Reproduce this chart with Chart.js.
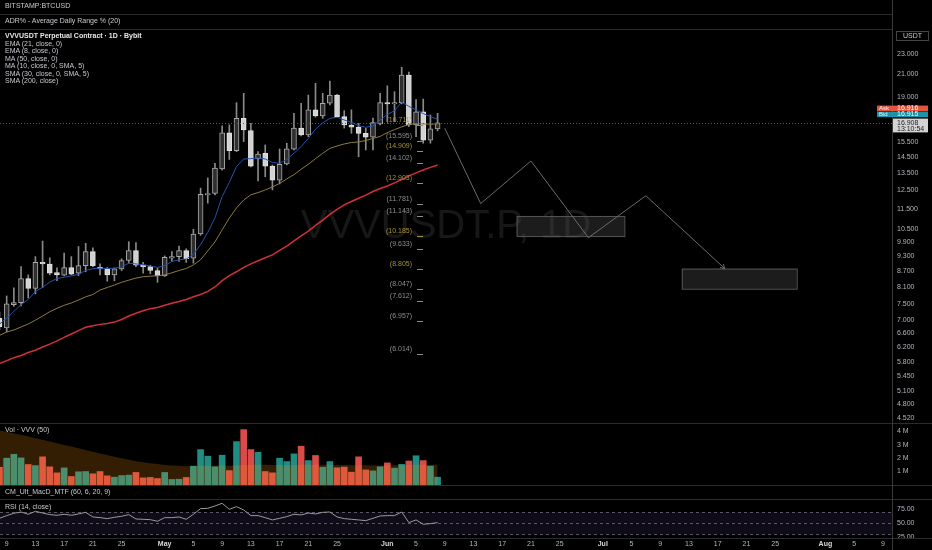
<!DOCTYPE html>
<html>
<head>
<meta charset="utf-8">
<title>VVVUSDT.P, 1D</title>
<script src="https://cdn.jsdelivr.net/npm/chart.js@4.4.1/dist/chart.umd.min.js"></script>
<style>
  html, body { margin: 0; padding: 0; background: #000; }
  #wrap { position: relative; width: 932px; height: 550px; overflow: hidden; background: #000; }
  #chart { position: absolute; left: 0; top: 0; }
  .lbl { position: absolute; left: 5px; font: 7px "Liberation Sans", Arial, sans-serif; line-height: 8px; color: #c8cad0; white-space: nowrap; }
  .lbl.b { font-weight: bold; color: #e8e8e8; }
</style>
</head>
<body>
<div id="wrap">
  <canvas id="chart" width="932" height="550"></canvas>
  <div class="lbl" style="top:2px">BITSTAMP:BTCUSD</div>
  <div class="lbl" style="top:17px">ADR% - Average Daily Range % (20)</div>
  <div class="lbl b" style="top:32px">VVVUSDT Perpetual Contract · 1D · Bybit</div>
  <div class="lbl" style="top:39.5px">EMA (21, close, 0)</div>
  <div class="lbl" style="top:47px">EMA (8, close, 0)</div>
  <div class="lbl" style="top:54.5px">MA (50, close, 0)</div>
  <div class="lbl" style="top:62px">MA (10, close, 0, SMA, 5)</div>
  <div class="lbl" style="top:69.5px">SMA (30, close, 0, SMA, 5)</div>
  <div class="lbl" style="top:77px">SMA (200, close)</div>
  <div class="lbl" style="top:426px">Vol · VVV (50)</div>
  <div class="lbl" style="top:488px">CM_Ult_MacD_MTF (60, 6, 20, 9)</div>
  <div class="lbl" style="top:503px">RSI (14, close)</div>
</div>
<script>
// daily candles, 2025
const dates = [
  '04-08','04-09','04-10','04-11','04-12','04-13','04-14','04-15','04-16','04-17','04-18','04-19',
  '04-20','04-21','04-22','04-23','04-24','04-25','04-26','04-27','04-28','04-29','04-30',
  '05-01','05-02','05-03','05-04','05-05','05-06','05-07','05-08','05-09','05-10','05-11','05-12',
  '05-13','05-14','05-15','05-16','05-17','05-18','05-19','05-20','05-21','05-22','05-23','05-24',
  '05-25','05-26','05-27','05-28','05-29','05-30','05-31',
  '06-01','06-02','06-03','06-04','06-05','06-06','06-07','06-08'
];
const open = [
  7.05, 6.75, 7.49, 7.56, 8.42, 8.06, 9.05, 8.98, 8.65, 8.55, 8.84, 8.63, 8.92, 9.50, 8.85, 8.80, 8.56, 8.79, 9.13, 9.54, 8.94, 8.88, 8.73,
  8.52, 9.23, 9.29, 9.54, 9.22, 10.28, 12.25, 12.32, 13.75, 16.17, 14.92, 17.25, 16.33, 14.38, 14.75, 13.93, 13.08, 14.06, 15.02, 16.51,
  16.01, 17.92, 17.43, 18.45, 19.14, 17.38, 16.74, 16.57, 16.13, 15.85, 16.82,
  18.50, 18.39, 18.50, 20.94, 16.74, 17.76, 15.65, 16.45
];
const high = [
  7.25, 7.79, 8.08, 8.88, 8.56, 9.29, 9.96, 9.24, 8.83, 9.44, 9.29, 9.72, 9.86, 9.66, 8.99, 8.85, 8.83, 9.20, 9.93, 9.89, 9.05, 8.94, 8.82,
  9.32, 9.50, 9.74, 9.62, 10.50, 12.62, 13.21, 14.10, 16.67, 16.75, 18.50, 19.29, 16.87, 14.86, 15.31, 14.00, 15.04, 15.43, 17.64, 18.45,
  19.14, 20.17, 19.29, 20.38, 19.20, 17.85, 17.92, 16.87, 16.50, 17.27, 19.29,
  19.95, 19.43, 21.67, 21.21, 18.75, 18.80, 17.51, 17.64
];
const low = [
  6.70, 6.63, 7.43, 7.45, 7.72, 7.86, 8.09, 8.56, 8.34, 8.52, 8.56, 8.53, 8.68, 8.88, 8.56, 8.32, 8.34, 8.73, 9.02, 8.88, 8.63, 8.60, 8.28,
  8.50, 9.09, 9.09, 9.05, 9.02, 10.22, 11.80, 12.24, 13.68, 14.35, 14.86, 15.54, 13.87, 13.04, 13.28, 12.52, 12.86, 14.00, 14.97, 15.94,
  15.89, 17.34, 17.25, 18.31, 17.36, 16.51, 16.13, 14.52, 14.97, 14.97, 16.74,
  17.00, 17.00, 18.40, 16.61, 15.89, 15.43, 15.43, 16.30
];
const close = [
  6.78, 7.52, 7.56, 8.42, 8.06, 9.05, 8.99, 8.63, 8.56, 8.84, 8.59, 8.92, 9.50, 8.92, 8.80, 8.56, 8.80, 9.13, 9.54, 8.94, 8.88, 8.73, 8.52,
  9.26, 9.29, 9.54, 9.20, 10.28, 12.27, 12.32, 13.80, 16.17, 14.92, 17.25, 16.37, 13.93, 14.70, 13.93, 13.08, 14.04, 15.04, 16.51, 16.01,
  17.92, 17.43, 18.45, 19.14, 17.38, 16.74, 16.57, 16.13, 15.85, 16.92, 18.50,
  18.39, 18.50, 20.94, 16.74, 17.76, 15.65, 16.45, 16.908
];
const ema8 = [
  6.87, 7.05, 7.27, 7.49, 7.67, 7.95, 8.10, 8.29, 8.42, 8.47, 8.52, 8.58, 8.73, 8.80, 8.82, 8.81, 8.82, 8.88, 9.02, 8.99, 8.96, 8.91, 8.85,
  8.92, 9.09, 9.16, 9.19, 9.38, 9.80, 10.35, 11.05, 12.15, 12.95, 13.90, 14.38, 14.40, 14.45, 14.38, 14.16, 14.10, 14.36, 14.75, 15.20,
  15.77, 16.43, 16.90, 17.25, 17.33, 17.12, 16.95, 16.69, 16.57, 16.67, 17.12,
  17.55, 17.85, 18.55, 18.20, 17.90, 17.62, 17.38, 17.18
];
const ema21 = [
  6.53, 6.63, 6.69, 6.78, 6.87, 6.99, 7.12, 7.26, 7.37, 7.47, 7.55, 7.65, 7.76, 7.84, 8.00, 8.09, 8.18, 8.28, 8.36, 8.44, 8.49, 8.51, 8.53,
  8.56, 8.64, 8.73, 8.81, 8.95, 9.16, 9.53, 9.92, 10.47, 11.04, 11.55, 11.97, 12.25, 12.37, 12.52, 12.69, 12.89, 13.15, 13.41, 13.73,
  14.04, 14.40, 14.75, 15.08, 15.24, 15.38, 15.48, 15.52, 15.62, 15.76, 15.91,
  16.18, 16.40, 16.60, 16.78, 16.85, 16.82, 16.80, 16.82
];
const ma50 = [
  5.76, 5.83, 5.91, 5.97, 6.05, 6.11, 6.20, 6.28, 6.37, 6.47, 6.57, 6.67, 6.77, 6.82, 6.86, 6.89, 6.93, 7.01, 7.12, 7.21, 7.29, 7.36, 7.40,
  7.47, 7.54, 7.60, 7.67, 7.76, 7.84, 7.95, 8.11, 8.34, 8.53, 8.68, 8.85, 8.99, 9.12, 9.24, 9.36, 9.55, 9.74, 9.97, 10.19,
  10.41, 10.68, 10.94, 11.22, 11.48, 11.71, 11.89, 12.06, 12.23, 12.43, 12.60,
  12.74, 12.92, 13.12, 13.33, 13.51, 13.69, 13.85, 14.00
];
// volume in millions
const volume = [
  1.32, 1.99, 2.28, 2.01, 1.52, 1.44, 2.09, 1.35, 0.90, 1.27, 0.63, 0.98, 1.00, 0.83, 1.00, 0.68, 0.58, 0.70, 0.73, 0.93, 0.53, 0.56, 0.48,
  0.93, 0.41, 0.43, 0.56, 1.40, 2.63, 2.14, 1.35, 2.21, 1.07, 3.22, 4.11, 2.63, 2.43, 1.00, 0.90, 1.99, 1.74, 2.31, 2.88,
  1.81, 2.19, 1.32, 1.74, 1.28, 1.33, 0.95, 2.09, 1.12, 1.05, 1.35,
  1.64, 1.25, 1.53, 1.78, 2.17, 1.81, 1.40, 0.58
];
const volMa = [
  4.05, 3.95, 3.83, 3.72, 3.60, 3.47, 3.35, 3.22, 3.10, 2.97, 2.85, 2.72, 2.60, 2.47, 2.33, 2.22, 2.10, 1.98, 1.87, 1.77, 1.69, 1.62, 1.55,
  1.49, 1.45, 1.42, 1.40, 1.40, 1.42, 1.43, 1.43, 1.44, 1.43, 1.45, 1.48, 1.50, 1.51, 1.50, 1.48, 1.48, 1.47, 1.48, 1.50,
  1.50, 1.51, 1.50, 1.50, 1.49, 1.48, 1.46, 1.47, 1.46, 1.45, 1.45,
  1.46, 1.46, 1.47, 1.48, 1.50, 1.51, 1.51, 1.50
];
const rsi = [
  58.9, 63.7, 67.9, 70.2, 66.1, 71.4, 68.4, 65.5, 64.3, 66.1, 64.3, 66.7, 69.6, 61.3, 60.1, 58.3, 60.7, 62.5, 65.5, 57.7, 57.1, 56.5, 53.6,
  60.1, 60.1, 61.3, 57.1, 66.1, 76.2, 76.8, 80.9, 85.7, 75.0, 79.8, 73.8, 63.7, 63.7, 60.1, 56.0, 58.9, 61.9, 66.1, 64.9,
  68.4, 66.7, 69.6, 70.2, 61.3, 58.3, 57.1, 56.0, 54.8, 58.9, 63.1,
  63.7, 63.7, 70.2, 51.2, 56.0, 48.2, 49.4, 51.2
];

// axis ticks
const priceTicks = [23, 21, 19, 15.5, 14.5, 13.5, 12.5, 11.5, 10.5, 9.9, 9.3, 8.7, 8.1, 7.5, 7.0, 6.6, 6.2, 5.8, 5.45, 5.1, 4.8, 4.52];
const volTicks = [1, 2, 3, 4];
const rsiTicks = [75, 50, 25];
const rsiBands = [70, 50, 30];
const xTickDates = ['04-09','04-13','04-17','04-21','04-25','05-01','05-05','05-09','05-13','05-17','05-21','05-25',
  '06-01','06-05','06-09','06-13','06-17','06-21','06-25','07-01','07-05','07-09','07-13','07-17','07-21','07-25',
  '08-01','08-05','08-09'];
const monthNames = ['Jan','Feb','Mar','Apr','May','Jun','Jul','Aug','Sep','Oct','Nov','Dec'];

// drawings
const fibLevels = [16.711, 15.595, 14.909, 14.102, 12.903, 11.781, 11.143, 10.185, 9.633, 8.805, 8.047, 7.612, 6.957, 6.014];
const fibGold = [true, false, true, false, true, false, false, true, false, true, false, false, false, false];
const fibDate = '06-05';
const zigDates = ['06-09', '06-14', '06-21', '06-29', '07-07', '07-18'];
const zigPrices = [16.50, 11.78, 14.25, 10.11, 12.20, 8.80];
const boxFrom = ['06-19', '07-12'];
const boxTo = ['07-04', '07-28'];
const boxTop = [11.143, 8.805];
const boxBottom = [10.185, 8.047];
const askPrice = 16.916, bidPrice = 16.915, countdown = '13:10:54';

const FONT = '"Liberation Sans", Arial, sans-serif';
const BASE = Date.UTC(2025, 3, 1);
const toDay = s => (Date.UTC(2025, +s.slice(0, 2) - 1, +s.slice(3, 5)) - BASE) / 864e5;
const days = dates.map(toDay);
const up = close.map((c, i) => c >= open[i]);
const pts = arr => days.map((d, i) => ({ x: d, y: arr[i] }));

const xMin = toDay('04-08') + 0.07;
const xMax = xMin + 124.2;

const decor = {
  id: 'decor',
  beforeDatasetsDraw(chart) {
    const { ctx, chartArea: a, scales: s } = chart;
    const ym = s.yMain, yr = s.yRsi, x = s.x;
    ctx.save();
    // watermark
    ctx.fillStyle = 'rgba(255,255,255,0.09)';
    ctx.font = '40px ' + FONT;
    ctx.textAlign = 'center';
    ctx.textBaseline = 'middle';
    ctx.fillText('VVVUSDT.P, 1D', (a.left + a.right) / 2, (ym.top + ym.bottom) / 2);
    // rsi band
    const yb = rsiBands.map(v => yr.getPixelForValue(v));
    ctx.fillStyle = 'rgba(126,87,194,0.12)';
    ctx.fillRect(a.left, yb[0], a.right - a.left, yb[2] - yb[0]);
    ctx.strokeStyle = 'rgba(140,140,150,0.6)';
    ctx.lineWidth = 1;
    ctx.setLineDash([3, 3]);
    yb.forEach(y => {
      ctx.beginPath();
      ctx.moveTo(a.left, Math.round(y) + 0.5);
      ctx.lineTo(a.right, Math.round(y) + 0.5);
      ctx.stroke();
    });
    ctx.setLineDash([]);
    // target boxes
    boxFrom.forEach((d, i) => {
      const x0 = x.getPixelForValue(toDay(d)), x1 = x.getPixelForValue(toDay(boxTo[i]));
      const y0 = ym.getPixelForValue(boxTop[i]), y1 = ym.getPixelForValue(boxBottom[i]);
      ctx.fillStyle = 'rgba(80,80,80,0.35)';
      ctx.fillRect(x0, y0, x1 - x0, y1 - y0);
      ctx.strokeStyle = '#555';
      ctx.strokeRect(x0 + 0.5, y0 + 0.5, x1 - x0, y1 - y0);
    });
    ctx.restore();
  },
  afterDatasetsDraw(chart) {
    const { ctx, chartArea: a, scales: s } = chart;
    const ym = s.yMain, x = s.x;
    ctx.save();
    // last price dotted line
    const cy = Math.round(ym.getPixelForValue(close[close.length - 1])) + 0.5;
    ctx.strokeStyle = '#5c5c5c';
    ctx.setLineDash([1, 2]);
    ctx.beginPath();
    ctx.moveTo(a.left, cy);
    ctx.lineTo(a.right, cy);
    ctx.stroke();
    ctx.setLineDash([]);
    // fib levels
    const ax = x.getPixelForValue(toDay(fibDate));
    ctx.font = '7px ' + FONT;
    ctx.textAlign = 'right';
    ctx.textBaseline = 'middle';
    fibLevels.forEach((p, i) => {
      const y = Math.round(ym.getPixelForValue(p)) + 0.5;
      const col = fibGold[i] ? '#a3913c' : '#8e8e8e';
      ctx.fillStyle = col;
      ctx.fillText('(' + p.toFixed(3) + ')', ax - 4, y - 5);
      ctx.strokeStyle = col;
      ctx.beginPath();
      ctx.moveTo(ax + 1, y);
      ctx.lineTo(ax + 7, y);
      ctx.stroke();
    });
    // arrow head at end of projection
    const n = zigDates.length;
    const ex = x.getPixelForValue(toDay(zigDates[n - 1])), ey = ym.getPixelForValue(zigPrices[n - 1]);
    const px = x.getPixelForValue(toDay(zigDates[n - 2])), py = ym.getPixelForValue(zigPrices[n - 2]);
    const ang = Math.atan2(ey - py, ex - px);
    ctx.strokeStyle = '#6b6b6b';
    ctx.beginPath();
    ctx.moveTo(ex - 5 * Math.cos(ang - 0.5), ey - 5 * Math.sin(ang - 0.5));
    ctx.lineTo(ex, ey);
    ctx.lineTo(ex - 5 * Math.cos(ang + 0.5), ey - 5 * Math.sin(ang + 0.5));
    ctx.stroke();
    ctx.restore();
  },
  afterDraw(chart) {
    const { ctx, chartArea: a, scales: s, width: W, height: H } = chart;
    const ym = s.yMain;
    ctx.save();
    ctx.strokeStyle = '#2c2c2c';
    ctx.lineWidth = 1;
    const hl = (y, x1) => { ctx.beginPath(); ctx.moveTo(0, Math.round(y) + 0.5); ctx.lineTo(x1, Math.round(y) + 0.5); ctx.stroke(); };
    hl(14, a.right); hl(29, a.right);
    hl(ym.bottom, W); hl(s.yVol.bottom, W); hl(s.yMacd.bottom, W); hl(a.bottom, W);
    ctx.strokeStyle = '#3a3a3a';
    ctx.beginPath();
    ctx.moveTo(a.right + 0.5, 0);
    ctx.lineTo(a.right + 0.5, H);
    ctx.stroke();
    // USDT unit box
    ctx.strokeStyle = '#444';
    ctx.strokeRect(a.right + 4.5, 31.5, 32, 9);
    ctx.fillStyle = '#c8c8c8';
    ctx.font = '7px ' + FONT;
    ctx.textAlign = 'center';
    ctx.textBaseline = 'middle';
    ctx.fillText('USDT', a.right + 20.5, 36.2);
    // ask / bid / last price tags
    const cy = ym.getPixelForValue(close[close.length - 1]);
    ctx.textAlign = 'left';
    ctx.fillStyle = '#e2553f';
    ctx.fillRect(a.right - 15, cy - 17.2, 51, 5.6);
    ctx.fillStyle = '#1b93a8';
    ctx.fillRect(a.right - 15, cy - 11.2, 51, 5.6);
    ctx.fillStyle = '#f2f2f2';
    ctx.font = '6px ' + FONT;
    ctx.fillText('Ask', a.right - 13, cy - 14.3);
    ctx.fillText('Bid', a.right - 13, cy - 8.3);
    ctx.font = '7px ' + FONT;
    ctx.fillText(askPrice.toFixed(3), a.right + 5, cy - 14.3);
    ctx.fillText(bidPrice.toFixed(3), a.right + 5, cy - 8.3);
    ctx.fillStyle = '#d4d4d4';
    ctx.fillRect(a.right + 1, cy - 4.2, 35, 13.8);
    ctx.fillStyle = '#1c1c1c';
    ctx.fillText(close[close.length - 1].toFixed(3), a.right + 5, cy - 0.2);
    ctx.fillText(countdown, a.right + 5, cy + 5.8);
    ctx.restore();
  }
};

const yAxisBase = (weight) => ({
  position: 'right',
  stack: 'panes',
  stackWeight: weight,
  bounds: 'data',
  offset: false,
  grid: { display: false, drawTicks: false },
  border: { display: false },
  afterFit: sc => { sc.width = 40; }
});

new Chart(document.getElementById('chart'), {
  type: 'bar',
  data: {
    datasets: [
      { type: 'line', label: 'Projection', data: zigDates.map((d, i) => ({ x: toDay(d), y: zigPrices[i] })),
        yAxisID: 'yMain', borderColor: '#6b6b6b', borderWidth: 1, pointRadius: 0, order: 0 },
      { type: 'line', label: 'EMA 8', data: pts(ema8), yAxisID: 'yMain',
        borderColor: '#2552ad', borderWidth: 1, pointRadius: 0, order: 1 },
      { type: 'line', label: 'EMA 21', data: pts(ema21), yAxisID: 'yMain',
        borderColor: '#8d7c3f', borderWidth: 1, pointRadius: 0, order: 1 },
      { type: 'line', label: 'MA 50', data: pts(ma50), yAxisID: 'yMain',
        borderColor: '#d1303a', borderWidth: 1.5, pointRadius: 0, order: 1 },
      { type: 'bar', label: 'Body', data: days.map((d, i) => ({ x: d, y: [open[i], close[i]] })), yAxisID: 'yMain',
        barThickness: 5, grouped: false, minBarLength: 1, borderSkipped: false, borderWidth: 1,
        backgroundColor: up.map(u => u ? '#2f2f2f' : '#d2d2d2'),
        borderColor: up.map(u => u ? '#a8a8a8' : '#e2e2e2'), order: 3 },
      { type: 'bar', label: 'Wick', data: days.map((d, i) => ({ x: d, y: [low[i], high[i]] })), yAxisID: 'yMain',
        barThickness: 1, grouped: false, backgroundColor: '#8a8a8a', order: 4 },
      { type: 'line', label: 'Volume MA', data: pts(volMa), yAxisID: 'yVol', fill: 'origin',
        backgroundColor: 'rgba(255,150,20,0.2)', borderWidth: 0, pointRadius: 0, order: 0 },
      { type: 'bar', label: 'Volume', data: pts(volume), yAxisID: 'yVol', barThickness: 6, grouped: false,
        backgroundColor: up.map(u => u ? 'rgba(38,166,154,0.85)' : 'rgba(239,83,80,0.9)'), order: 3 },
      { type: 'line', label: 'RSI', data: pts(rsi), yAxisID: 'yRsi',
        borderColor: '#9a9a9a', borderWidth: 1, pointRadius: 0, order: 0 }
    ]
  },
  options: {
    responsive: false,
    animation: false,
    layout: { padding: { top: 30, left: 0, right: 0, bottom: 0 } },
    plugins: { legend: { display: false }, tooltip: { enabled: false } },
    scales: {
      x: {
        type: 'linear', position: 'bottom', min: xMin, max: xMax, bounds: 'data', offset: false,
        grid: { display: false, drawTicks: false, offset: false }, border: { display: false },
        afterBuildTicks: sc => { sc.ticks = xTickDates.map(d => ({ value: toDay(d) })); },
        afterFit: sc => { sc.height = 12; },
        ticks: {
          autoSkip: false, maxRotation: 0, padding: 2,
          color: c => /[A-Za-z]/.test(String((c.tick && c.tick.label) || '')) ? '#d8d8d8' : '#b2b5be',
          font: c => ({ family: FONT, size: 7, weight: /[A-Za-z]/.test(String((c.tick && c.tick.label) || '')) ? 'bold' : 'normal' }),
          callback: v => {
            const dt = new Date(BASE + v * 864e5);
            return dt.getUTCDate() === 1 ? monthNames[dt.getUTCMonth()] : String(dt.getUTCDate());
          }
        }
      },
      yMain: Object.assign(yAxisBase(393), {
        type: 'logarithmic', min: 4.412, max: 25.61,
        afterBuildTicks: sc => { sc.ticks = priceTicks.map(v => ({ value: v })); },
        ticks: { autoSkip: false, padding: 5, color: '#b2b5be', font: { family: FONT, size: 7 }, callback: v => v.toFixed(3) }
      }),
      yVol: Object.assign(yAxisBase(62), {
        type: 'linear', min: 0, max: 4.6,
        afterBuildTicks: sc => { sc.ticks = volTicks.map(v => ({ value: v })); },
        ticks: { autoSkip: false, padding: 5, color: '#b2b5be', font: { family: FONT, size: 7 }, callback: v => v + ' M' }
      }),
      yMacd: Object.assign(yAxisBase(14), {
        type: 'linear', min: 0, max: 1,
        ticks: { display: false }
      }),
      yRsi: Object.assign(yAxisBase(39), {
        type: 'linear', min: 23.7, max: 93.4,
        afterBuildTicks: sc => { sc.ticks = rsiTicks.map(v => ({ value: v })); },
        ticks: { autoSkip: false, padding: 5, color: '#b2b5be', font: { family: FONT, size: 7 }, callback: v => v.toFixed(2) }
      })
    }
  },
  plugins: [decor]
});
</script>
</body>
</html>
